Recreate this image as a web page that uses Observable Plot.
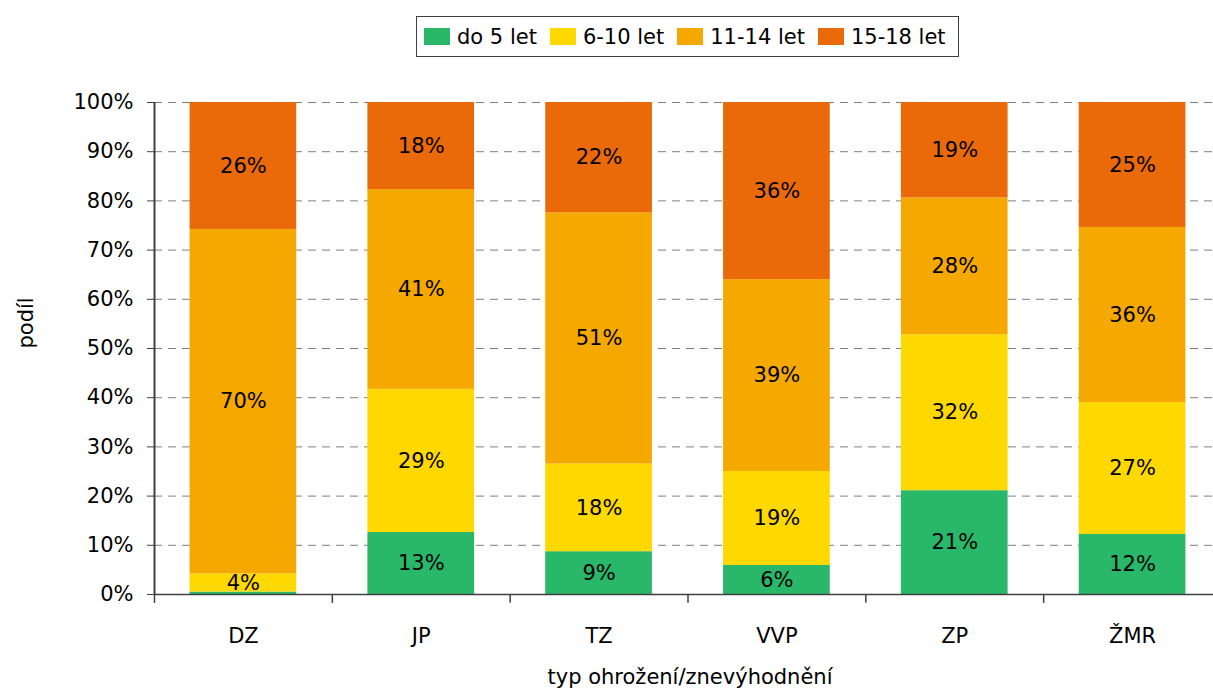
<!DOCTYPE html>
<html>
<head>
<meta charset="utf-8">
<script src="https://cdn.jsdelivr.net/npm/d3@7"></script>
<script src="https://cdn.jsdelivr.net/npm/@observablehq/plot@0.6"></script>
<style>
  html, body { margin: 0; padding: 0; background: #fff; }
  body { width: 1213px; height: 693px; overflow: hidden; font-family: "DejaVu Sans", sans-serif; }
  #legendWrap { position: relative; height: 72px; }
  #legend { position: absolute; left: 416px; top: 16px; height: 39px; border: 1px solid #404040;
            display: flex; align-items: center; padding: 0 8px 0 7px; box-sizing: content-box; }
  .item { display: flex; align-items: center; font-size: 21px; color: #000; margin-right: 13px; }
  .item:last-child { margin-right: 4px; }
  .sw { width: 26px; height: 17px; margin-right: 7px; }
  svg { display: block; }
</style>
</head>
<body>
<div id="legendWrap"><div id="legend"></div></div>
<div id="chart"></div>
<script>
const categories = ["DZ", "JP", "TZ", "VVP", "ZP", "ŽMR"];
const series = ["do 5 let", "6-10 let", "11-14 let", "15-18 let"];
const colors = ["#29B76A", "#FFD800", "#F5A800", "#EA6A0A"];
const do5 =    [0.5, 12.6,  8.7,  5.9, 21.1, 12.2];
const y6_10 =  [3.7, 29.1, 17.8, 19.1, 31.7, 26.8];
const y11_14 = [70.0, 40.6, 51.1, 39.0, 27.8, 35.6];
const y15_18 = [25.8, 17.7, 22.4, 36.0, 19.4, 25.4];
const yTicks = [0, 10, 20, 30, 40, 50, 60, 70, 80, 90, 100];
const xTitle = "typ ohrožení/znevýhodnění";
const yTitle = "podíl";

const valuesBySeries = [do5, y6_10, y11_14, y15_18];
const data = categories.flatMap((c, i) =>
  series.map((s, j) => ({cat: c, series: s, value: valuesBySeries[j][i]})));

// legend
const legend = document.getElementById("legend");
series.forEach((s, j) => {
  const it = document.createElement("div");
  it.className = "item";
  it.innerHTML = `<div class="sw" style="background:${colors[j]}"></div><span>${s}</span>`;
  legend.appendChild(it);
});

const x0 = 154, x1 = 1221;
const step = (x1 - x0) / categories.length;
const axisColor = "#404040";

const chart = Plot.plot({
  width: 1213,
  height: 621,
  marginLeft: 154,
  marginRight: 0,
  marginTop: 30,
  marginBottom: 99,
  style: {fontFamily: "DejaVu Sans", fontSize: "21px", color: "#000", background: "#fff", overflow: "visible"},
  x: {domain: categories, range: [x0, x1], paddingInner: 0.4, paddingOuter: 0.2, round: false, label: null},
  y: {domain: [0, 100], label: null},
  color: {domain: series, range: colors},
  marks: [
    Plot.ruleY(yTicks.filter(d => d > 0), {stroke: "#7f7f7f", strokeWidth: 1, strokeDasharray: "8,6"}),
    Plot.barY(data, Plot.stackY({x: "cat", y: "value", fill: "series"})),
    Plot.text(data, Plot.stackY({
      x: "cat", y: "value", z: "series",
      text: d => d.value >= 1 ? Math.round(d.value) + "%" : "",
      fill: "#000", fontSize: 21
    })),
    Plot.ruleY([0], {stroke: axisColor, strokeWidth: 1.5}),
    Plot.ruleX([categories[0]], {x: d => d, dx: -step / 2, y1: 0, y2: 100, stroke: axisColor, strokeWidth: 2}),
    Plot.ruleX(categories, {x: d => d, dx: -step / 2, y1: 0, y2: -1.8, stroke: axisColor, strokeWidth: 1.5}),
    Plot.axisY({ticks: yTicks, tickFormat: d => d + "%", tickSize: 7, tickPadding: 14,
                stroke: axisColor, fill: "#000", fontSize: 21, label: null}),
    Plot.axisX({tickSize: 0, tickPadding: 34, fill: "#000", fontSize: 21, label: null}),
    Plot.text([xTitle], {text: d => d, frameAnchor: "bottom", dy: 89, dx: 6, fill: "#000", fontSize: 21}),
    Plot.text([yTitle], {text: d => d, frameAnchor: "left", dx: -128, rotate: -90, fill: "#000", fontSize: 21})
  ]
});
document.getElementById("chart").appendChild(chart);
</script>
</body>
</html>
